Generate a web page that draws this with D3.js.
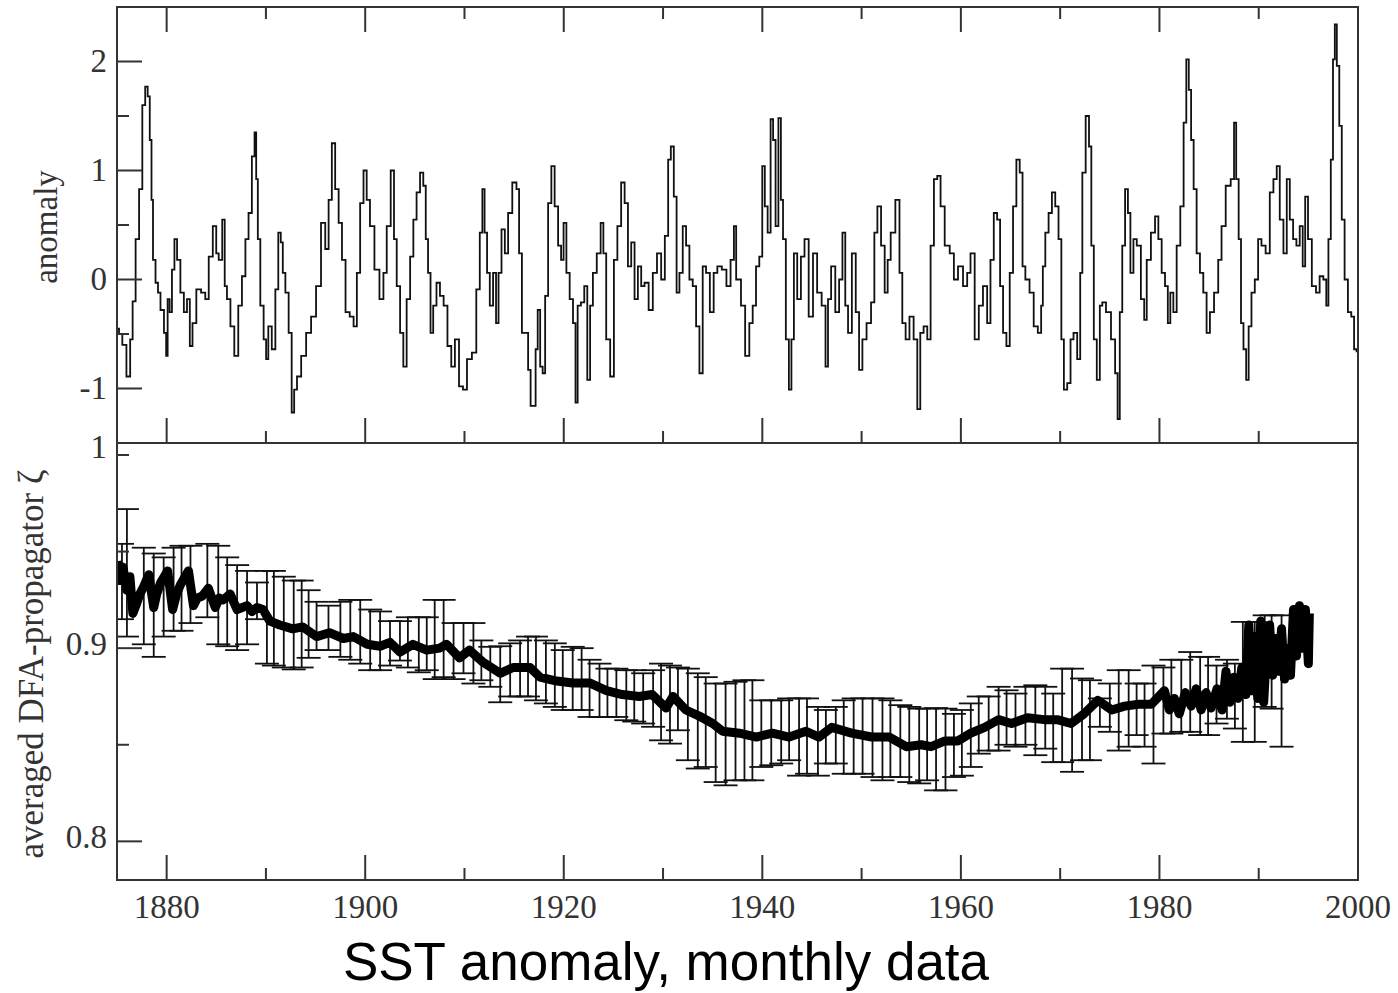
<!DOCTYPE html>
<html>
<head>
<meta charset="utf-8">
<script src="https://cdn.jsdelivr.net/npm/d3@7"></script>
<style>
  body { margin: 0; background: #fff; }
  svg { display: block; }
  .lbl { font-family: "Liberation Serif", "Times New Roman", serif; fill: #333; }
</style>
</head>
<body>
<svg id="chart" width="1398" height="993"></svg>
<script>
// monthly SST anomaly at its turning points: [year, anomaly]
const sstAnomaly = [
  [1875.04,-0.45],[1875.37,-0.5],[1875.7,-0.6],[1876.2,-0.89],[1876.45,-0.55],[1876.7,-0.2],[1877.05,0.37],[1877.4,0.83],
  [1877.7,1.6],[1877.98,1.77],[1878.2,1.68],[1878.4,1.28],[1878.55,0.73],[1878.7,0.18],[1879.06,-0.03],[1879.2,-0.12],
  [1879.56,-0.28],[1879.9,-0.49],[1880.0,-0.7],[1880.2,-0.18],[1880.4,-0.3],[1880.67,0.09],[1880.9,0.37],[1881.2,0.18],
  [1881.57,-0.12],[1881.9,-0.3],[1882.2,-0.18],[1882.47,-0.61],[1882.74,-0.4],[1883.24,-0.09],[1883.7,-0.12],[1884.08,-0.18],
  [1884.4,0.21],[1884.9,0.49],[1885.09,0.24],[1885.4,0.18],[1885.8,0.55],[1885.9,-0.06],[1886.25,-0.18],[1886.6,-0.43],
  [1887.03,-0.7],[1887.4,-0.24],[1887.77,0.03],[1888.1,0.37],[1888.4,0.61],[1888.77,1.13],[1888.94,1.35],[1889.1,0.92],
  [1889.27,0.37],[1889.6,-0.24],[1889.94,-0.55],[1890.1,-0.73],[1890.38,-0.43],[1890.8,-0.64],[1891.1,-0.09],[1891.39,0.43],
  [1891.6,0.34],[1891.8,0.06],[1892.12,-0.12],[1892.46,-0.49],[1892.73,-1.22],[1892.96,-1.01],[1893.3,-0.89],[1893.8,-0.7],
  [1894.3,-0.49],[1894.8,-0.34],[1895.3,-0.06],[1895.8,0.52],[1896.15,0.28],[1896.48,0.73],[1896.8,1.25],[1897.15,0.83],
  [1897.5,0.52],[1897.82,0.18],[1898.22,-0.3],[1898.66,-0.34],[1899.0,-0.43],[1899.32,0.06],[1899.66,0.7],[1900.0,1.0],
  [1900.3,0.73],[1900.66,0.49],[1901.2,0.09],[1901.67,-0.18],[1902.0,0.06],[1902.34,0.49],[1902.8,1.0],[1903.0,0.37],
  [1903.35,-0.06],[1903.68,-0.49],[1904.0,-0.8],[1904.35,-0.18],[1904.7,0.21],[1905.0,0.55],[1905.35,0.8],[1905.7,0.98],
  [1906.0,0.86],[1906.2,0.37],[1906.46,0.06],[1906.7,-0.49],[1907.0,-0.24],[1907.36,-0.03],[1907.7,-0.15],[1908.1,-0.24],
  [1908.47,-0.61],[1908.87,-0.8],[1909.2,-0.55],[1909.7,-0.98],[1910.0,-1.01],[1910.5,-0.73],[1911.0,-0.67],[1911.38,-0.09],
  [1911.7,0.43],[1911.9,0.83],[1912.15,0.43],[1912.4,0.06],[1912.7,-0.24],[1913.06,0.06],[1913.3,-0.4],[1913.56,0.06],
  [1913.9,0.46],[1914.23,0.24],[1914.56,0.61],[1915.07,0.89],[1915.4,0.83],[1915.6,0.24],[1915.97,-0.49],[1916.24,-0.49],
  [1916.58,-0.83],[1916.74,-1.16],[1917.08,-1.16],[1917.25,-0.64],[1917.5,-0.28],[1917.75,-0.8],[1918.0,-0.86],[1918.25,-0.15],
  [1918.6,0.7],[1918.9,1.04],[1919.26,0.67],[1919.6,0.31],[1919.86,0.18],[1920.1,0.52],[1920.43,0.06],[1920.76,-0.18],
  [1921.1,-0.4],[1921.27,-1.13],[1921.53,-0.24],[1921.93,-0.21],[1922.2,-0.06],[1922.54,-0.92],[1922.77,-0.24],[1923.1,0.06],
  [1923.55,0.24],[1923.88,0.52],[1924.1,0.24],[1924.45,-0.55],[1924.9,-0.89],[1925.2,0.18],[1925.6,0.49],[1925.96,0.89],
  [1926.3,0.7],[1926.63,0.12],[1926.96,0.34],[1927.3,-0.18],[1927.63,0.12],[1927.97,-0.06],[1928.3,-0.03],[1928.8,-0.28],
  [1929.14,0.06],[1929.64,0.24],[1929.98,0.0],[1930.38,0.4],[1930.65,1.1],[1930.92,1.22],[1931.25,0.76],[1931.48,-0.12],
  [1931.82,0.06],[1932.15,0.49],[1932.49,0.31],[1932.82,0.0],[1933.16,-0.06],[1933.5,-0.43],[1933.83,-0.86],[1934.16,0.12],
  [1934.5,0.06],[1934.93,-0.3],[1935.27,0.06],[1935.67,0.12],[1936.17,0.09],[1936.6,-0.06],[1937.0,0.18],[1937.28,0.49],
  [1937.45,0.0],[1937.68,0.0],[1938.02,-0.24],[1938.52,-0.7],[1938.86,-0.4],[1939.2,-0.24],[1939.53,0.12],[1939.86,0.21],
  [1940.13,1.04],[1940.37,0.67],[1940.7,0.43],[1940.97,1.47],[1941.2,1.28],[1941.47,0.49],[1941.77,1.48],[1941.97,0.73],
  [1942.2,0.37],[1942.54,-0.55],[1942.81,-1.01],[1943.05,-0.55],[1943.31,0.24],[1943.72,-0.18],[1944.05,0.21],[1944.45,0.37],
  [1944.89,-0.34],[1945.32,0.24],[1945.72,-0.12],[1946.23,-0.24],[1946.5,-0.8],[1946.73,-0.18],[1947.13,0.12],[1947.57,-0.3],
  [1947.9,0.0],[1948.24,0.43],[1948.47,-0.24],[1948.8,-0.49],[1949.24,0.24],[1949.58,-0.3],[1949.91,-0.83],[1950.25,-0.55],
  [1950.75,-0.4],[1951.15,-0.21],[1951.42,0.43],[1951.76,0.67],[1952.16,0.31],[1952.49,-0.12],[1952.76,0.18],[1953.1,0.43],
  [1953.7,0.73],[1953.93,0.06],[1954.27,-0.4],[1954.6,-0.55],[1955.04,-0.34],[1955.44,-0.55],[1955.78,-1.19],[1956.04,-0.49],
  [1956.45,-0.43],[1956.78,-0.55],[1957.12,0.31],[1957.45,0.92],[1957.79,0.95],[1958.12,0.67],[1958.62,0.31],[1959.13,0.24],
  [1959.46,0.0],[1959.96,0.12],[1960.47,-0.06],[1960.8,0.06],[1961.14,0.24],[1961.64,-0.55],[1961.97,-0.24],[1962.48,-0.06],
  [1962.81,-0.4],[1963.15,0.18],[1963.48,0.61],[1963.82,0.55],[1964.08,-0.06],[1964.42,-0.49],[1964.75,-0.61],[1965.09,0.06],
  [1965.42,0.67],[1965.76,1.1],[1966.09,0.98],[1966.33,0.12],[1966.66,0.0],[1967.17,-0.12],[1967.5,-0.43],[1968.0,-0.49],
  [1968.17,-0.24],[1968.34,0.12],[1968.67,0.43],[1969.0,0.61],[1969.34,0.8],[1969.67,0.67],[1970.0,0.37],[1970.24,-0.55],
  [1970.51,-1.01],[1970.91,-0.95],[1971.18,-0.55],[1971.51,-0.49],[1971.92,-0.73],[1972.12,0.06],[1972.35,0.98],[1972.79,1.5],
  [1973.02,1.22],[1973.26,0.31],[1973.52,-0.55],[1973.86,-0.92],[1974.13,-0.24],[1974.36,-0.21],[1974.87,-0.3],[1975.37,-0.55],
  [1975.7,-0.86],[1975.87,-1.28],[1976.14,-0.3],[1976.37,0.31],[1976.71,0.83],[1976.94,0.61],[1977.21,0.06],[1977.55,0.37],
  [1977.88,0.31],[1978.38,-0.18],[1978.55,-0.37],[1978.89,0.18],[1979.39,0.43],[1979.72,0.58],[1980.06,0.37],[1980.39,0.06],
  [1980.73,-0.06],[1980.96,-0.4],[1981.23,-0.12],[1981.57,-0.3],[1981.9,0.31],[1982.3,0.67],[1982.57,1.44],[1982.84,2.02],
  [1983.07,1.74],[1983.31,1.28],[1983.58,0.83],[1983.91,0.24],[1984.25,0.06],[1984.58,-0.12],[1984.92,-0.49],[1985.25,-0.3],
  [1985.75,-0.12],[1986.09,0.18],[1986.42,0.49],[1986.93,0.86],[1987.43,0.92],[1987.6,1.44],[1987.86,0.92],[1988.1,0.37],
  [1988.33,-0.4],[1988.6,-0.64],[1988.87,-0.92],[1989.1,-0.43],[1989.44,-0.12],[1989.77,0.0],[1990.11,0.37],[1990.44,0.31],
  [1990.95,0.24],[1991.28,0.8],[1991.68,0.92],[1991.95,1.04],[1992.29,0.55],[1992.69,0.24],[1992.96,0.92],[1993.3,0.55],
  [1993.63,0.37],[1993.96,0.31],[1994.3,0.49],[1994.56,0.12],[1994.8,0.76],[1995.13,0.37],[1995.57,-0.06],[1995.97,-0.12],
  [1996.3,0.03],[1996.71,0.0],[1996.9,-0.24],[1997.14,0.37],[1997.38,1.1],[1997.58,2.02],[1997.75,2.34],[1997.98,1.96],
  [1998.25,1.41],[1998.48,0.55],[1998.82,0.0],[1999.15,-0.3],[1999.49,-0.34],[1999.72,-0.64],[2000.0,-0.66]
];

// averaged DFA-propagator, thick line: [year, zeta]
const dfaMean = [
  [1875.0,0.945],[1875.3,0.935],[1875.6,0.942],[1876.0,0.93],[1876.3,0.937],[1876.6,0.918],[1876.9,0.922],[1877.3,0.928],
  [1877.7,0.932],[1878.2,0.938],[1878.7,0.921],[1879.0,0.928],[1879.4,0.934],[1880.1,0.94],[1880.6,0.92],[1881.0,0.928],
  [1881.4,0.933],[1882.2,0.94],[1882.7,0.922],[1883.1,0.926],[1883.6,0.927],[1884.2,0.931],[1884.9,0.921],[1885.3,0.926],
  [1885.7,0.925],[1886.4,0.928],[1887.1,0.92],[1888.1,0.922],[1888.6,0.919],[1889.1,0.921],[1889.7,0.92],[1890.4,0.914],
  [1891.4,0.912],[1892.7,0.91],[1893.7,0.911],[1895.1,0.906],[1896.4,0.908],[1897.8,0.905],[1898.8,0.906],[1900.2,0.902],
  [1901.5,0.901],[1902.5,0.903],[1903.5,0.898],[1904.8,0.902],[1906.2,0.899],[1907.5,0.9],[1908.2,0.902],[1909.5,0.895],
  [1910.5,0.899],[1911.8,0.893],[1913.6,0.887],[1914.9,0.89],[1916.6,0.89],[1917.6,0.885],[1919.3,0.883],[1920.9,0.882],
  [1922.6,0.882],[1924.3,0.878],[1925.9,0.876],[1927.6,0.875],[1928.9,0.876],[1930.3,0.869],[1931.0,0.875],[1932.3,0.868],
  [1933.6,0.865],[1935.0,0.861],[1936.0,0.857],[1937.7,0.856],[1939.4,0.854],[1941.0,0.856],[1942.7,0.854],[1944.4,0.857],
  [1945.7,0.854],[1947.0,0.859],[1949.0,0.856],[1951.0,0.854],[1952.8,0.854],[1954.5,0.849],[1956.0,0.85],[1957.0,0.849],
  [1958.4,0.852],[1959.7,0.852],[1961.0,0.856],[1962.4,0.859],[1963.8,0.863],[1965.1,0.861],[1966.7,0.864],[1968.4,0.863],
  [1969.7,0.863],[1971.1,0.861],[1972.4,0.866],[1973.8,0.873],[1975.2,0.868],[1976.5,0.87],[1977.9,0.871],[1979.2,0.871],
  [1980.5,0.878],[1981.0,0.868],[1981.5,0.874],[1982.0,0.866],[1982.6,0.877],[1983.2,0.87],[1983.7,0.879],[1984.2,0.868],
  [1984.7,0.877],[1985.2,0.869],[1985.8,0.879],[1986.3,0.868],[1986.7,0.888],[1987.1,0.872],[1987.5,0.885],[1987.9,0.874],
  [1988.3,0.89],[1988.7,0.876],[1989.0,0.912],[1989.3,0.878],[1989.6,0.906],[1989.9,0.874],[1990.2,0.914],[1990.5,0.872],
  [1990.8,0.9],[1991.1,0.912],[1991.4,0.886],[1991.7,0.905],[1992.0,0.888],[1992.3,0.91],[1992.6,0.884],[1992.9,0.9],
  [1993.2,0.886],[1993.5,0.92],[1993.8,0.896],[1994.1,0.922],[1994.4,0.9],[1994.7,0.92],[1995.0,0.892],[1995.1,0.918]
];

// error bars: year, lower end, upper end
const barYears = [
  1875.5,1876.0,1877.7,1878.7,1879.7,1880.7,1881.5,1882.4,1884.1,1885.2,1886.1,1887.1,1888.1,1889.1,1890.1,1890.8,
  1891.8,1892.8,1893.6,1894.3,1895.1,1896.3,1897.5,1898.5,1899.5,1900.5,1901.5,1902.5,1903.5,1904.3,1905.4,1906.2,
  1907.0,1907.9,1908.9,1909.9,1910.9,1911.7,1912.6,1913.6,1914.6,1915.6,1916.4,1917.2,1918.2,1919.1,1919.9,1920.9,
  1921.8,1922.6,1923.6,1924.4,1925.3,1926.3,1927.1,1928.0,1929.0,1929.8,1930.7,1931.5,1932.5,1933.5,1934.3,1935.3,
  1936.3,1937.3,1938.2,1939.0,1939.9,1940.9,1941.9,1942.7,1943.7,1944.5,1945.6,1946.4,1947.4,1948.2,1949.2,1950.1,
  1951.1,1952.1,1952.9,1953.9,1954.8,1955.8,1956.6,1957.5,1958.45,1959.3,1960.1,1961.0,1961.8,1962.8,1963.8,1964.6,
  1965.5,1966.5,1967.5,1968.5,1969.3,1970.2,1971.2,1972.2,1973.0,1974.0,1975.0,1975.9,1976.9,1977.7,1978.5,1979.4,
  1980.4,1981.2,1982.2,1983.1,1984.1,1984.9,1985.75,1986.8,1987.6,1988.4,1989.6,1990.6,1991.3,1992.3
];
const barLow = [
  0.915,0.906,0.902,0.8955,0.906,0.909,0.909,0.913,0.916,0.902,0.901,0.899,0.902,0.915,0.892,0.891,
  0.890,0.889,0.890,0.895,0.899,0.899,0.8955,0.894,0.892,0.8886,0.8886,0.891,0.8936,0.890,0.8875,0.8886,
  0.884,0.885,0.884,0.887,0.8817,0.8834,0.880,0.872,0.875,0.875,0.875,0.873,0.8714,0.8696,0.868,0.868,
  0.868,0.8644,0.8644,0.8644,0.8644,0.8627,0.862,0.861,0.8593,0.8523,0.8506,0.8575,0.842,0.8377,0.8385,0.8307,
  0.829,0.8316,0.8316,0.8316,0.8385,0.8394,0.8403,0.842,0.834,0.835,0.834,0.8403,0.8403,0.835,0.835,0.835,
  0.8333,0.8316,0.8333,0.8333,0.8307,0.830,0.8316,0.8264,0.8264,0.8333,0.834,0.8385,0.8454,0.847,0.847,0.850,
  0.849,0.850,0.8446,0.848,0.841,0.841,0.836,0.842,0.842,0.8593,0.8567,0.847,0.849,0.855,0.849,0.8403,
  0.8558,0.8558,0.8567,0.8567,0.855,0.855,0.861,0.8635,0.8584,0.8515,0.8515,0.8696,0.8687,0.849
];
const barHigh = [
  0.954,0.972,0.952,0.949,0.947,0.952,0.953,0.953,0.954,0.953,0.947,0.943,0.940,0.934,0.940,0.940,
  0.937,0.935,0.935,0.930,0.924,0.922,0.924,0.925,0.925,0.920,0.919,0.914,0.914,0.916,0.916,0.916,
  0.925,0.925,0.913,0.913,0.913,0.904,0.9007,0.901,0.9025,0.904,0.906,0.906,0.904,0.9025,0.899,0.9007,
  0.900,0.894,0.892,0.8894,0.8894,0.8886,0.8886,0.887,0.8886,0.892,0.891,0.890,0.8894,0.887,0.885,0.8817,
  0.8817,0.8826,0.8834,0.8834,0.873,0.873,0.873,0.874,0.874,0.874,0.8696,0.868,0.8696,0.873,0.874,0.874,
  0.874,0.874,0.873,0.8705,0.8696,0.8687,0.8687,0.869,0.8687,0.866,0.868,0.8714,0.875,0.875,0.880,0.8782,
  0.8765,0.880,0.8808,0.880,0.8765,0.8894,0.8894,0.8843,0.8834,0.874,0.8817,0.8886,0.8886,0.8817,0.8817,0.891,
  0.890,0.894,0.894,0.898,0.8955,0.8955,0.891,0.894,0.892,0.9136,0.9136,0.917,0.917,0.917
];

const xMajor = [1880, 1900, 1920, 1940, 1960, 1980, 2000];
const xMinor = [1890, 1910, 1930, 1950, 1970, 1990];
const anomalyMajor = [-1, 0, 1, 2];
const anomalyMinor = [-0.5, 0.5, 1.5];
const zetaMajor = [0.8, 0.9];
const zetaMinor = [0.85, 0.95, 1.0];
const zetaLabels = [0.8, 0.9, 1.0];

const svg = d3.select('#chart');
const left = 117, right = 1358;
const top1 = 7, bottom1 = 443, top2 = 443, bottom2 = 880;
const majorLen = 25, minorLen = 12;

const x = d3.scaleLinear().domain([1875, 2000]).range([left, right]);
const yA = d3.scaleLinear().domain([-1.5, 2.5]).range([bottom1, top1]);
const yZ = d3.scaleLinear().domain([0.78, 1.0062]).range([bottom2, top2]);

svg.append('defs').selectAll('clipPath')
  .data([['clipTop', top1, bottom1], ['clipBottom', top2, bottom2]])
  .enter().append('clipPath').attr('id', d => d[0])
  .append('rect')
    .attr('x', left).attr('y', d => d[1])
    .attr('width', right - left).attr('height', d => d[2] - d[1]);

// ---- top panel: anomaly series (stepped, like the monthly trace)
svg.append('path')
  .datum(sstAnomaly)
  .attr('clip-path', 'url(#clipTop)')
  .attr('fill', 'none')
  .attr('stroke', '#111')
  .attr('stroke-width', 1.8)
  .attr('d', d3.line().x(d => x(d[0])).y(d => yA(d[1])).curve(d3.curveStep));

// ---- bottom panel: error bars then thick mean line
const bars = svg.append('g')
  .attr('clip-path', 'url(#clipBottom)')
  .attr('stroke', '#111')
  .attr('stroke-width', 1.8);
barYears.forEach((yr, i) => {
  const bx = x(yr);
  bars.append('line').attr('x1', bx).attr('x2', bx).attr('y1', yZ(barLow[i])).attr('y2', yZ(barHigh[i]));
  [barLow[i], barHigh[i]].forEach(v => {
    bars.append('line').attr('x1', bx - 12).attr('x2', bx + 12).attr('y1', yZ(v)).attr('y2', yZ(v));
  });
});

svg.append('path')
  .datum(dfaMean)
  .attr('clip-path', 'url(#clipBottom)')
  .attr('fill', 'none')
  .attr('stroke', '#000')
  .attr('stroke-width', 9)
  .attr('stroke-linejoin', 'round')
  .attr('d', d3.line().x(d => x(d[0])).y(d => yZ(d[1])));

// ---- frames
const frame = svg.append('g').attr('fill', 'none').attr('stroke', '#333').attr('stroke-width', 2);
frame.append('rect').attr('x', left).attr('y', top1).attr('width', right - left).attr('height', bottom1 - top1);
frame.append('rect').attr('x', left).attr('y', top2).attr('width', right - left).attr('height', bottom2 - top2);

// ---- ticks (inward, grace style)
const ticks = svg.append('g').attr('stroke', '#333').attr('stroke-width', 2);
function xTicks(values, y0, dir, len) {
  values.filter(v => v < 2000).forEach(v => {
    ticks.append('line').attr('x1', x(v)).attr('x2', x(v)).attr('y1', y0).attr('y2', y0 + dir * len);
  });
}
xTicks(xMajor, top1, 1, majorLen);
xTicks(xMinor, top1, 1, minorLen);
xTicks(xMajor, bottom1, -1, majorLen);
xTicks(xMinor, bottom1, -1, minorLen);
xTicks(xMajor, bottom2, -1, majorLen);
xTicks(xMinor, bottom2, -1, minorLen);

function yTicks(scale, values, len) {
  values.forEach(v => {
    ticks.append('line').attr('x1', left).attr('x2', left + len).attr('y1', scale(v)).attr('y2', scale(v));
  });
}
yTicks(yA, anomalyMajor, majorLen);
yTicks(yA, anomalyMinor, minorLen);
yTicks(yZ, zetaMajor, majorLen);
yTicks(yZ, zetaMinor, minorLen);

// ---- tick labels
svg.append('g').selectAll('text')
  .data(anomalyMajor).enter().append('text')
  .attr('class', 'lbl').attr('font-size', 33)
  .attr('x', left - 10).attr('y', d => yA(d)).attr('dy', '0.33em')
  .attr('text-anchor', 'end')
  .text(d => d);

svg.append('g').selectAll('text')
  .data(zetaLabels).enter().append('text')
  .attr('class', 'lbl').attr('font-size', 33)
  .attr('x', left - 10).attr('y', d => yZ(d)).attr('dy', d => d === 1.0 ? '0.1em' : '0.2em')
  .attr('text-anchor', 'end')
  .text(d => d3.format('')(d));

svg.append('g').selectAll('text')
  .data(xMajor).enter().append('text')
  .attr('class', 'lbl').attr('font-size', 33)
  .attr('x', d => x(d)).attr('y', 918)
  .attr('text-anchor', 'middle')
  .text(d => d);

// ---- axis titles
svg.append('text')
  .attr('class', 'lbl').attr('font-size', 33)
  .attr('transform', 'translate(57,227) rotate(-90)')
  .attr('text-anchor', 'middle')
  .text('anomaly');

svg.append('text')
  .attr('class', 'lbl').attr('font-size', 35)
  .attr('transform', 'translate(43,664) rotate(-90)')
  .attr('text-anchor', 'middle')
  .text('averaged DFA-propagator \u03B6');

svg.append('text')
  .attr('x', 666).attr('y', 980)
  .attr('text-anchor', 'middle')
  .attr('font-family', '"Liberation Sans", Arial, sans-serif')
  .attr('font-size', 53)
  .attr('fill', '#000')
  .text('SST anomaly, monthly data');
</script>
</body>
</html>
